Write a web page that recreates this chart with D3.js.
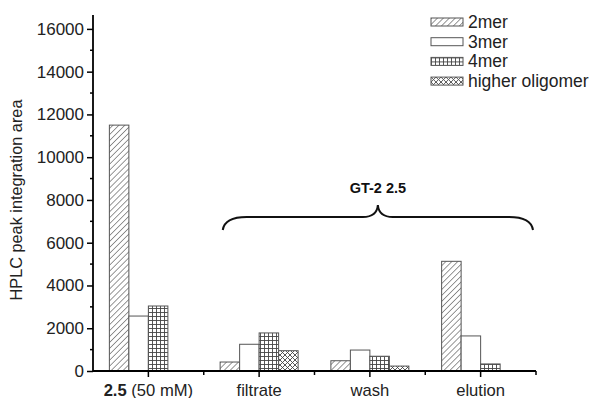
<!DOCTYPE html>
<html>
<head>
<meta charset="utf-8">
<script src="https://cdn.jsdelivr.net/npm/d3@7"></script>
<style>
  html, body { margin: 0; padding: 0; background: #fff; }
  svg { display: block; font-family: Arial, "Liberation Sans", Helvetica, sans-serif; }
</style>
</head>
<body>
<svg id="chart" width="594" height="398"></svg>
<script>
// Sample groups along the x axis
const categories = ["2.5 (50 mM)", "filtrate", "wash", "elution"];
// Oligomer series
const seriesNames = ["2mer", "3mer", "4mer", "higher oligomer"];
// HPLC peak integration area per group, one array per series
const values2mer   = [11500, 420, 480, 5130];
const values3mer   = [2570, 1250, 980, 1640];
const values4mer   = [3040, 1780, 690, 330];
const valuesHigher = [0, 950, 230, 0];
const yTicks = [0, 2000, 4000, 6000, 8000, 10000, 12000, 14000, 16000];
const yMinorTicks = [1000, 3000, 5000, 7000, 9000, 11000, 13000, 15000];
const braceLabel = "GT-2 2.5";
const braceGroups = ["filtrate", "elution"];

const seriesValues = [values2mer, values3mer, values4mer, valuesHigher];

const svg = d3.select("#chart");
const margin = { left: 93, right: 58, top: 15, bottom: 27 };
const W = 594, H = 398;
const x0 = margin.left, x1 = W - margin.right;
const yBottom = H - margin.bottom, yTop = margin.top;

const x = d3.scaleBand().domain(categories).range([x0, x1]).padding(0);
const xInner = d3.scaleBand().domain(seriesNames)
  .range([0, x.bandwidth()]).paddingOuter(0.84).paddingInner(0);
const y = d3.scaleLinear().domain([0, 16650]).range([yBottom, yTop]);

// Fill patterns
const defs = svg.append("defs");
const ink = "#444";

const pHatch = defs.append("pattern").attr("id", "p-hatch")
  .attr("patternUnits", "userSpaceOnUse").attr("width", 4.2).attr("height", 4.2)
  .attr("patternTransform", "rotate(45)");
pHatch.append("rect").attr("width", 4.2).attr("height", 4.2).attr("fill", "#fff");
pHatch.append("line").attr("x1", 0).attr("y1", 0).attr("x2", 0).attr("y2", 4.2)
  .attr("stroke", ink).attr("stroke-width", 1.1);

const pGrid = defs.append("pattern").attr("id", "p-grid")
  .attr("patternUnits", "userSpaceOnUse").attr("width", 4).attr("height", 4);
pGrid.append("rect").attr("width", 4).attr("height", 4).attr("fill", "#fff");
pGrid.append("path").attr("d", "M0,0.5H4M0.5,0V4")
  .attr("stroke", ink).attr("stroke-width", 0.9).attr("fill", "none");

const pCross = defs.append("pattern").attr("id", "p-cross")
  .attr("patternUnits", "userSpaceOnUse").attr("width", 5).attr("height", 5);
pCross.append("rect").attr("width", 5).attr("height", 5).attr("fill", "#fff");
pCross.append("path").attr("d", "M0,0L5,5M5,0L0,5")
  .attr("stroke", ink).attr("stroke-width", 0.9).attr("fill", "none");

const fills = ["url(#p-hatch)", "#fff", "url(#p-grid)", "url(#p-cross)"];
const fillOf = d3.scaleOrdinal().domain(seriesNames).range(fills);

// Bars
const rows = [];
categories.forEach((c, i) => {
  seriesNames.forEach((s, j) => {
    rows.push({ cat: c, series: s, value: seriesValues[j][i] });
  });
});

svg.append("g").selectAll("rect")
  .data(rows.filter(d => d.value > 0))
  .join("rect")
  .attr("x", d => x(d.cat) + xInner(d.series))
  .attr("y", d => y(d.value))
  .attr("width", xInner.bandwidth())
  .attr("height", d => y(0) - y(d.value))
  .attr("fill", d => fillOf(d.series))
  .attr("stroke", "#555")
  .attr("stroke-width", 1);

// Y axis
const yAxis = svg.append("g").attr("transform", `translate(${x0},0)`);
yAxis.call(d3.axisLeft(y).tickValues(yTicks).tickSize(6).tickPadding(3).tickFormat(d3.format("d")));
yAxis.append("g").selectAll("line").data(yMinorTicks).join("line")
  .attr("x1", -3).attr("x2", 0).attr("y1", d => y(d)).attr("y2", d => y(d))
  .attr("stroke", "#000").attr("stroke-width", 1.5);
yAxis.select(".domain").attr("d", `M0,${yTop}V${yBottom}`).attr("stroke-width", 1.8);
yAxis.selectAll(".tick line").attr("stroke-width", 1.5);
yAxis.selectAll(".tick text").attr("font-size", 17).attr("fill", "#222")
  .attr("font-family", "Arial, 'Liberation Sans', sans-serif");

// X axis
const xAxis = svg.append("g").attr("transform", `translate(0,${yBottom})`);
xAxis.call(d3.axisBottom(x).tickSize(6).tickPadding(5).tickFormat(() => ""));
xAxis.select(".domain").attr("d", `M${x0},0H${x1}`).attr("stroke-width", 1.8);
xAxis.selectAll(".tick line").attr("stroke-width", 1.5);
const bounds = categories.map(c => x(c) + x.bandwidth());
xAxis.append("g").selectAll("line").data(bounds).join("line")
  .attr("x1", d => d).attr("x2", d => d).attr("y1", 0).attr("y2", 4)
  .attr("stroke", "#000").attr("stroke-width", 1.5);

// Category labels
const catLabels = xAxis.append("g").attr("font-size", 16.6).attr("fill", "#222");
categories.forEach(c => {
  const t = catLabels.append("text")
    .attr("x", x(c) + x.bandwidth() / 2).attr("y", 24.5)
    .attr("text-anchor", "middle");
  const m = c.match(/^([\d.]+)(\s.*)$/);
  if (m) {
    t.append("tspan").attr("font-weight", "bold").text(m[1]);
    t.append("tspan").text(m[2]);
  } else {
    t.text(c);
  }
});

// Y axis title
svg.append("text")
  .attr("transform", `translate(22,${(yTop + yBottom) / 2 + 7}) rotate(-90)`)
  .attr("text-anchor", "middle")
  .attr("font-size", 16.3).attr("fill", "#222")
  .text("HPLC peak integration area");

// Brace over the GT-2 groups
const bx0 = x(braceGroups[0]) + 19;
const bx1 = x(braceGroups[1]) + x.bandwidth() - 3;
const bm = (bx0 + bx1) / 2;
const byEnd = 230, byMid = 217, byTip = 205, r = 15;
const brace = d3.path();
brace.moveTo(bx0, byEnd);
brace.quadraticCurveTo(bx0 + 2, byMid, bx0 + r * 1.6, byMid);
brace.lineTo(bm - r, byMid);
brace.quadraticCurveTo(bm - 1, byMid, bm, byTip);
brace.quadraticCurveTo(bm + 1, byMid, bm + r, byMid);
brace.lineTo(bx1 - r * 1.6, byMid);
brace.quadraticCurveTo(bx1 - 2, byMid, bx1, byEnd);
svg.append("path").attr("d", brace.toString())
  .attr("fill", "none").attr("stroke", "#111").attr("stroke-width", 2);
svg.append("text")
  .attr("x", bm).attr("y", 193).attr("text-anchor", "middle")
  .attr("font-size", 14.5).attr("font-weight", "bold").attr("fill", "#111")
  .text(braceLabel);

// Legend
const legend = svg.append("g").attr("transform", "translate(431,18)");
seriesNames.forEach((s, i) => {
  const g = legend.append("g").attr("transform", `translate(0,${i * 19.7})`);
  g.append("rect").attr("x", 0).attr("y", 0).attr("width", 32).attr("height", 8)
    .attr("fill", fillOf(s)).attr("stroke", "#555").attr("stroke-width", 1);
  g.append("text").attr("x", 37).attr("y", 10)
    .attr("font-size", 17.5).attr("fill", "#222").text(s);
});
</script>
</body>
</html>
